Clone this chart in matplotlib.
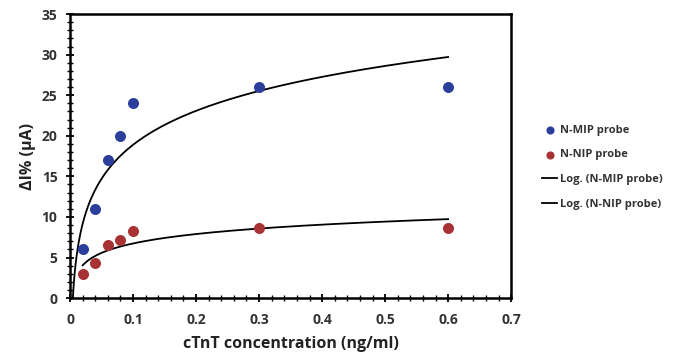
import numpy as np
import matplotlib.pyplot as plt
from matplotlib.ticker import MultipleLocator

plt.rcParams['font.family'] = ['Open Sans', 'DejaVu Sans']

conc = np.array([0.02, 0.04, 0.06, 0.08, 0.1, 0.3, 0.6])
mip = np.array([6.0, 11.0, 17.0, 20.0, 24.0, 26.0, 26.0])
nip = np.array([3.0, 4.3, 6.5, 7.2, 8.3, 8.6, 8.6])

# logarithmic trendlines (y = a*ln(x) + b)
a1, b1 = np.polyfit(np.log(conc), mip, 1)
a2, b2 = np.polyfit(np.log(conc), nip, 1)
x0 = np.exp(-b1 / a1)
xf1 = np.linspace(x0, 0.6, 400)
xf2 = np.linspace(0.02, 0.6, 400)

fig = plt.figure(figsize=(6.87, 3.6), dpi=100)
ax = fig.add_axes([0.102, 0.172, 0.642, 0.789])

ax.scatter(conc, mip, s=48, color='#2c3e9c', zorder=3, label='N-MIP probe')
ax.scatter(conc, nip, s=48, color='#a83234', zorder=3, label='N-NIP probe')
ax.plot(xf1, a1 * np.log(xf1) + b1, color='black', lw=1.3, label='Log. (N-MIP probe)')
ax.plot(xf2, a2 * np.log(xf2) + b2, color='black', lw=1.3, label='Log. (N-NIP probe)')

ax.set_xlim(0, 0.7)
ax.set_ylim(0, 35)
ax.xaxis.set_major_locator(MultipleLocator(0.1))
ax.xaxis.set_minor_locator(MultipleLocator(0.02))
ax.yaxis.set_major_locator(MultipleLocator(5))
ax.yaxis.set_minor_locator(MultipleLocator(1))
ax.xaxis.set_major_formatter(plt.FuncFormatter(lambda v, p: '0' if v == 0 else f'{v:g}'))
ax.tick_params(which='major', direction='inout', length=6, width=1.3, labelsize=10)
ax.tick_params(axis='x', which='major', pad=8)
ax.tick_params(axis='y', which='major', pad=6)
ax.tick_params(which='minor', direction='inout', length=4, width=1.0)
for lab in ax.get_xticklabels() + ax.get_yticklabels():
    lab.set_fontweight('bold')
    lab.set_color('#333333')
for sp in ax.spines.values():
    sp.set_linewidth(1.8)

ax.set_xlabel('cTnT concentration (ng/ml)', fontsize=11.5, fontweight='bold', color='#222222', labelpad=6)
ax.set_ylabel('ΔI% (μA)', fontsize=11.5, fontweight='bold', color='#222222')

leg = fig.legend(loc='center left', bbox_to_anchor=(0.775, 0.535), frameon=False,
                 fontsize=8, handlelength=1.3, handletextpad=0.3, labelspacing=1.25,
                 markerscale=0.7)
for t in leg.get_texts():
    t.set_fontweight('bold')
    t.set_color('#333333')

fig.savefig('out.png', dpi=100)
